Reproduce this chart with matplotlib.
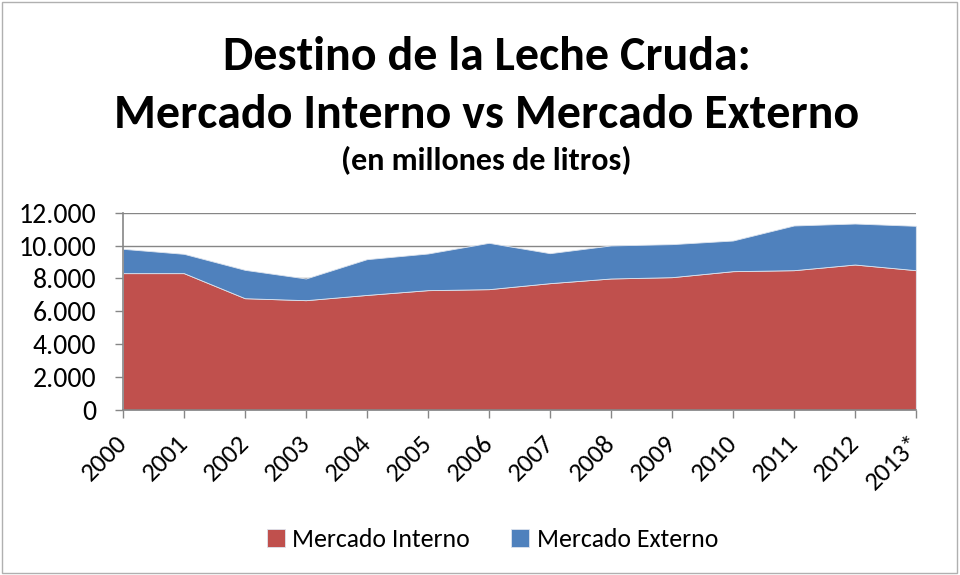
import matplotlib
matplotlib.use("Agg")
import matplotlib.pyplot as plt
from matplotlib.patches import Rectangle
from matplotlib.ticker import FuncFormatter, MultipleLocator
from matplotlib.transforms import ScaledTranslation

# data (millones de litros)
years = ["2000", "2001", "2002", "2003", "2004", "2005", "2006",
         "2007", "2008", "2009", "2010", "2011", "2012", "2013*"]
interno = [8325, 8325, 6800, 6680, 7000, 7290, 7350,
           7715, 8000, 8080, 8445, 8505, 8850, 8505]
externo = [1480, 1175, 1726, 1320, 2175, 2230, 2820,
           1825, 2010, 2010, 1865, 2720, 2495, 2700]

RED = "#C0504D"
BLUE = "#4F81BD"
GRID = "#868686"

plt.rcParams.update({"font.family": ["Carlito", "Lato", "DejaVu Sans"]})

fig = plt.figure(figsize=(9.6, 5.75), dpi=100)
ax = fig.add_axes([0.128, 0.287, 0.826, 0.343])

x = list(range(len(years)))
ax.stackplot(x, interno, externo, colors=[RED, BLUE],
             labels=["Mercado Interno", "Mercado Externo"],
             edgecolor="#dde4ee", linewidth=0.6, zorder=2)

ax.set_xlim(0, len(years) - 1)
ax.set_ylim(0, 12000)
ax.yaxis.set_major_locator(MultipleLocator(2000))
ax.yaxis.set_major_formatter(FuncFormatter(lambda v, p: f"{int(v):,}".replace(",", ".")))
ax.grid(axis="y", color=GRID, lw=1.0, zorder=1)
ax.set_axisbelow(True)

ax.set_xticks(x)
ax.set_xticklabels(years, rotation=45, ha="right", va="top", rotation_mode="anchor")
ax.tick_params(axis="both", color=GRID, length=6, width=1)
ax.tick_params(axis="x", labelsize=19, pad=9)
ax.tick_params(axis="y", labelsize=20, pad=13)
# Excel puts the rotated labels a bit left of the tick
shift = ScaledTranslation(-8 / 100, 0, fig.dpi_scale_trans)
for lab in ax.get_xticklabels():
    lab.set_transform(lab.get_transform() + shift)

for s in ["top", "right"]:
    ax.spines[s].set_visible(False)
for s in ["left", "bottom"]:
    ax.spines[s].set_color(GRID)
    ax.spines[s].set_linewidth(1.2)
    ax.spines[s].set_zorder(3)

fig.text(0.507, 0.9, "Destino de la Leche Cruda:", ha="center", va="center",
         fontsize=34.5, fontweight="bold")
fig.text(0.507, 0.8, "Mercado Interno vs Mercado Externo", ha="center", va="center",
         fontsize=34.5, fontweight="bold")
fig.text(0.507, 0.72, "(en millones de litros)", ha="center", va="center",
         fontsize=23, fontweight="bold")

fig.legend(loc="center", bbox_to_anchor=(0.513, 0.062), ncol=2, frameon=False,
           fontsize=18.5, handlelength=0.7, handleheight=0.7, handletextpad=0.3,
           columnspacing=1.6)

fig.patches.append(Rectangle((0.002, 0.003), 0.995, 0.994, transform=fig.transFigure,
                             fill=False, edgecolor="#b0b0b0", lw=1))

fig.savefig("out.png", dpi=100)
